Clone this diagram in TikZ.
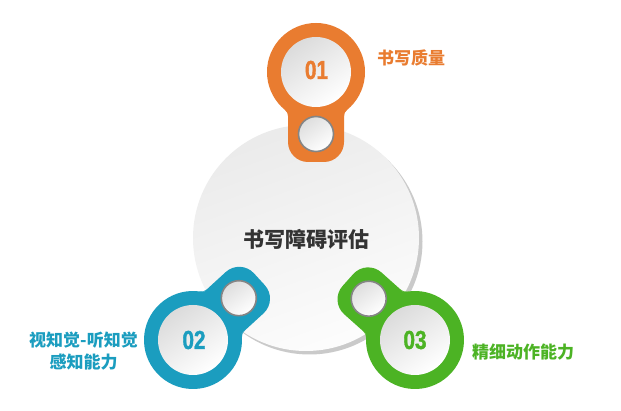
\documentclass[tikz,border=0pt]{standalone}
\usepackage{fontspec}
\newfontfamily\cjk{Noto Sans CJK SC}
\newfontfamily\numf{Liberation Sans}[BoldFeatures={FakeBold=1.6}]
\definecolor{corange}{HTML}{E97C30}
\definecolor{cblue}{HTML}{1B9DBF}
\definecolor{cgreen}{HTML}{4CB324}
\definecolor{ctext}{HTML}{333333}
\definecolor{cshadow}{HTML}{CACACA}
\tikzset{
  hubdisc/.style={circle, minimum size=226pt, inner sep=0pt, draw=none, top color=black!8, bottom color=black!1, shading angle=20},
  innerdisc/.style={circle, minimum size=70pt, inner sep=0pt, draw=none, top color=black!14, bottom color=white, shading angle=35},
  knob/.style={circle, minimum size=35pt, inner sep=0pt, draw=black!48, line width=1.6pt, top color=black!13, bottom color=white, shading angle=35},
  numlabel/.style={font=\numf\bfseries\fontsize{26pt}{26pt}\selectfont, inner sep=0pt},
  cjklabel/.style={font=\cjk\bfseries\fontsize{17pt}{21.7pt}\selectfont, align=center, inner sep=0pt},
  hublabel/.style={font=\cjk\bfseries\fontsize{21pt}{24pt}\selectfont, inner sep=0pt, text=ctext},
}
\newcommand\drawpin[4]{%
  \begin{scope}[shift={(#1,#2)}, rotate=#3]
    \fill[#4] (0,0) circle[radius=49];
    \fill[#4, rounded corners=20] (-28,0) -- (-28,90) -- (28,90) -- (28,0) -- cycle;
    \fill[#4] (-30.95,37.99) arc[start angle=-50.8, end angle=0, radius=8] -- (-28,30) -- (-30.95,30) -- cycle;
    \fill[#4] (28,44.19) arc[start angle=180, end angle=230.8, radius=8] -- (30.95,30) -- (28,30) -- cycle;
  \end{scope}}
\begin{document}
\begin{tikzpicture}[x=1pt, y=-1pt]
  \useasboundingbox (0,0) rectangle (621,411);
  \fill[white] (0,0) rectangle (621,411);
  % hub
  \fill[cshadow] (309.5,241.5) circle[radius=113];
  \node[hubdisc] (hub) at (306,238) {};
  % pins
  \drawpin{316}{72}{0}{corange}
  \drawpin{193}{340}{132.5}{cblue}
  \drawpin{415}{340}{228.2}{cgreen}
  % discs
  \node[innerdisc] (d1) at (316,72) {};
  \node[innerdisc] (d2) at (193,340) {};
  \node[innerdisc] (d3) at (415,340) {};
  % knobs
  \node[knob] (k1) at (316,134) {};
  \node[knob] (k2) at (238.8,298.2) {};
  \node[knob] (k3) at (368.7,298.7) {};
  % numbers
  \node[numlabel, text=corange] (n1) at (316.5,70) {\scalebox{0.8}[1]{01}};
  \node[numlabel, text=cblue] (n2) at (194,340) {\scalebox{0.8}[1]{02}};
  \node[numlabel, text=cgreen] (n3) at (415,340) {\scalebox{0.8}[1]{03}};
  % labels
  \node[hublabel] (title) at (306.5,239) {书写障碍评估};
  \node[cjklabel, text=corange] (l1) at (411,58) {书写质量};
  \node[cjklabel, text=cblue] (l2) at (83.5,351) {视知觉-听知觉\\感知能力};
  \node[cjklabel, text=cgreen] (l3) at (523,352) {精细动作能力};
\end{tikzpicture}
\end{document}
